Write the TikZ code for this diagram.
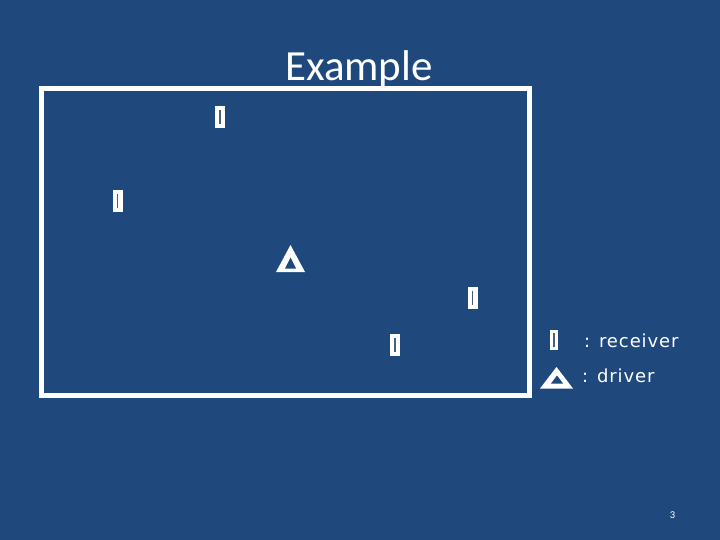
\documentclass[tikz,border=0pt]{standalone}
\usepackage{fontspec}
\setmainfont{Carlito}
\newfontfamily\legfont[LetterSpace=5]{DejaVu Sans}
\definecolor{bgblue}{HTML}{1F497D}
\definecolor{tickc}{HTML}{4A5E7C}
\begin{document}
\begin{tikzpicture}[x=1pt,y=-1pt,
  rcv/.style={draw=none,fill=white,rectangle,inner sep=0pt,minimum width=10pt,minimum height=22pt,
    path picture={\draw[tickc,line width=1.2pt] ([yshift=-7pt]path picture bounding box.center) -- ([yshift=7pt]path picture bounding box.center);}},
  smallrcv/.style={rcv,minimum width=8pt,minimum height=20pt},
  legtext/.style={text=white,font=\legfont\fontsize{18}{20}\selectfont,anchor=base west,inner sep=0pt}]
\fill[bgblue] (0,0) rectangle (720,540);
\useasboundingbox (0,0) rectangle (720,540);
\node[text=white,font=\fontsize{43}{50}\selectfont,anchor=base,inner sep=0pt] (title) at (359,81) {Example};
\draw[white,line width=5pt] (41,89) rectangle (529,395.5);
\node[rcv] (r1) at (220,117) {};
\node[rcv] (r2) at (117.5,201) {};
\node[rcv] (r3) at (472.5,297.5) {};
\node[rcv] (r4) at (395,345) {};
% driver
\fill[white] (276,272) -- (305,272) -- (290.5,245) -- cycle;
\fill[bgblue] (285,268.5) -- (296,268.5) -- (290.5,257.5) -- cycle;
% legend
\node[smallrcv] (lr) at (554,340) {};
\node[legtext] (lrt) at (584,347) {: receiver};
\fill[white] (540,388.5) -- (573,388.5) -- (556.5,367) -- cycle;
\fill[bgblue] (551,383.5) -- (563,383.5) -- (557,375.5) -- cycle;
\node[legtext] (ldt) at (582,382.5) {: driver};
\node[text=white,font=\fontsize{10.5}{12}\selectfont,anchor=base,inner sep=0pt] (pg) at (672.5,518.5) {3};
\end{tikzpicture}
\end{document}
